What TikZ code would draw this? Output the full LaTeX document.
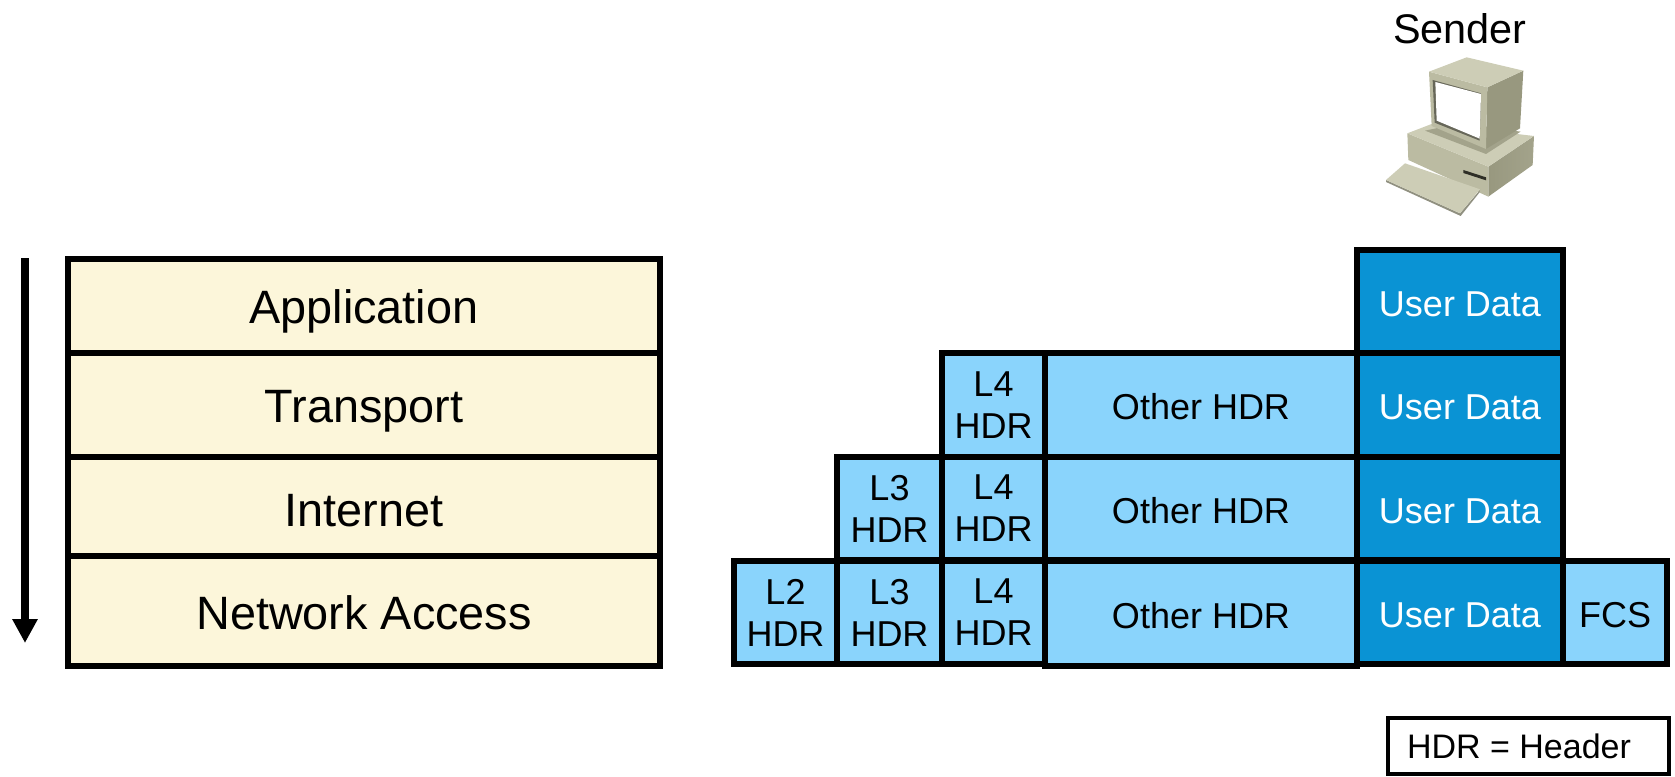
\documentclass[tikz,border=0pt]{standalone}
\usepackage{fontspec}
\setmainfont{Liberation Sans}
\usetikzlibrary{arrows.meta}
\definecolor{beige}{HTML}{FCF6DA}
\definecolor{lblue}{HTML}{8AD4FC}
\definecolor{dblue}{HTML}{0A93D4}
\definecolor{pcTop}{HTML}{CDCDB6}
\definecolor{pcFront}{HTML}{BBBBA2}
\definecolor{pcSide}{HTML}{98987F}
\definecolor{pcShade}{HTML}{A3A38B}
\tikzset{
  x=1pt,y=-1pt,
  box/.style={draw=black,line width=5.8pt,inner sep=0pt,outer sep=0pt,align=center,font=\fontsize{36}{42}\selectfont},
  layerbox/.style={box,fill=beige,font=\fontsize{46.8}{50}\selectfont,text height=43.6pt,text depth=9pt},
  hdrbox/.style={box,fill=lblue},
  hdrline/.style={hdrbox,text height=29pt,text depth=0pt},
  databox/.style={box,fill=dblue,text=white,text height=29pt,text depth=0pt},
  legendbox/.style={draw=black,line width=3.5pt,fill=white,inner sep=0pt,outer sep=0pt,font=\fontsize{34}{40}\selectfont},
  label/.style={inner sep=0pt,font=\fontsize{41.4}{46}\selectfont},
  flow/.style={line width=8.5pt,-{Triangle[length=24pt,width=24pt]}},
}
% \cell{name}{style}{x0}{y0}{x1}{y1}{text}
\newcommand{\cell}[7]{\node[#2,minimum width=#5pt-#3pt,minimum height=#6pt-#4pt] (#1) at ({(#3+#5)/2},{(#4+#6)/2}) {#7};}
\begin{document}
\begin{tikzpicture}
\useasboundingbox (0,0) rectangle (1675,776);
% layers
\cell{app}{layerbox}{68}{259}{660}{353}{Application}
\cell{trans}{layerbox}{68}{353}{660}{457}{Transport}
\cell{inet}{layerbox,text height=49pt}{68}{457}{660}{556}{Internet}
\cell{net}{layerbox,text height=45.5pt}{68}{556}{660}{666}{Network Access}
% arrow
\coordinate (flowA) at (25,258);
\coordinate (flowB) at (25,643);
\draw[flow] (flowA) -- (flowB);
% encapsulation
\cell{ud1}{databox}{1357}{250}{1563}{353}{User Data}
\cell{o2}{hdrline}{1045}{353}{1357}{457}{Other HDR}
\cell{l42}{hdrbox}{942}{353}{1045}{457}{L4\\HDR}
\cell{ud2}{databox}{1357}{353}{1563}{457}{User Data}
\cell{o3}{hdrline}{1045}{457}{1357}{560}{Other HDR}
\cell{l43}{hdrbox}{942}{457}{1045}{560}{L4\\HDR}
\cell{l33}{hdrbox}{837}{457}{942}{560}{L3\\HDR}
\cell{ud3}{databox}{1357}{457}{1563}{560}{User Data}
\cell{l2}{hdrbox}{734}{561}{837}{664}{L2\\HDR}
\cell{l34}{hdrbox}{837}{561}{942}{664}{L3\\HDR}
\cell{l44}{hdrbox}{942}{561}{1045}{664}{L4\\HDR}
\cell{o4}{hdrline}{1045}{561}{1357}{666}{Other HDR}
\cell{fcs}{hdrline}{1563}{561}{1667}{664}{FCS}
\cell{ud4}{databox}{1357}{561}{1563}{664}{User Data}
% legend
\cell{legend}{legendbox}{1388}{718}{1669}{774}{HDR = Header\hspace{19pt}\mbox{}}
\node[label] (sender) at (1460,29) {Sender};
% sender computer
\begin{scope}[shift={(1350,0)},x=0.3333pt,y=-0.3333pt]
  \shade[left color=pcSide,right color=pcShade] (415,500) -- (552,408) -- (548,495) -- (415,590) -- cycle;
  \fill[pcFront] (172,400) -- (415,500) -- (415,590) -- (175,480) -- cycle;
  \fill[pcTop] (172,400) -- (245,372) -- (552,408) -- (415,500) -- cycle;
  \fill[pcShade] (225,392) -- (408,462) -- (512,395) -- (330,370) -- cycle;
  \fill[pcTop!70!black] (108,540) -- (330,640) -- (390,570) -- (388,578) -- (332,648) -- (108,546) -- cycle;
  \fill[pcTop] (108,540) -- (165,490) -- (390,568) -- (330,640) -- cycle;
  \fill[black!70!pcSide] (340,510) -- (408,532) -- (408,541) -- (340,519) -- cycle;
  \fill[pcSide] (412,262) -- (520,212) -- (510,385) -- (408,447) -- cycle;
  \fill[pcFront] (237,215) -- (412,262) -- (408,447) -- (245,378) -- cycle;
  \fill[pcTop] (237,215) -- (350,172) -- (520,212) -- (412,262) -- cycle;
  \fill[black!45!pcFront] (248,240) -- (393,280) -- (389,422) -- (254,368) -- cycle;
  \fill[white] (256,246) -- (393,282) -- (389,416) -- (260,362) -- cycle;
\end{scope}
\end{tikzpicture}
\end{document}
